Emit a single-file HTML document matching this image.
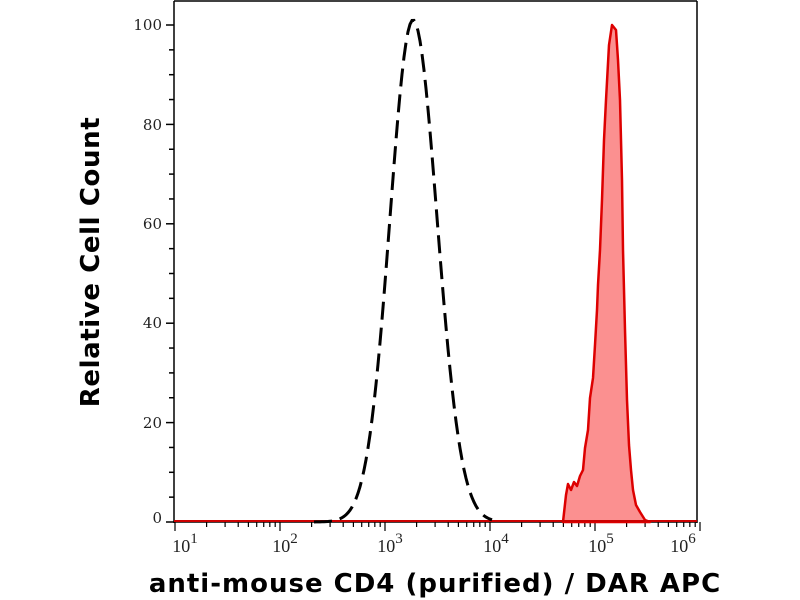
<!DOCTYPE html>
<html><head><meta charset="utf-8"><style>
html,body{margin:0;padding:0;background:#fff;width:800px;height:600px;overflow:hidden}
</style></head><body>
<svg width="800" height="600" xmlns="http://www.w3.org/2000/svg">
<g id="axes" stroke="#000" stroke-width="1.5" fill="none">
<line x1="174" y1="1" x2="174" y2="523"/>
<line x1="174" y1="1" x2="697" y2="1"/>
<line x1="697" y1="1" x2="697" y2="523"/>
<line x1="174" y1="522" x2="697" y2="522"/>
</g>
<g id="yt" stroke="#000" stroke-width="1.5"></g>
<g id="xt" stroke="#000" stroke-width="1.2"></g>
<g font-family="DejaVu Serif, serif" font-size="15" fill="#222" text-anchor="end">
<text x="162" y="30">100</text><text x="162" y="130">80</text><text x="162" y="229">60</text>
<text x="162" y="328">40</text><text x="162" y="428">20</text><text x="162" y="523">0</text>
</g>
<g font-family="Liberation Serif, serif" font-size="18" fill="#222" text-anchor="middle">
<text x="185" y="552">10<tspan dy="-9" font-size="15">1</tspan></text>
<text x="285" y="552">10<tspan dy="-9" font-size="15">2</tspan></text>
<text x="390" y="552">10<tspan dy="-9" font-size="15">3</tspan></text>
<text x="496" y="552">10<tspan dy="-9" font-size="15">4</tspan></text>
<text x="601" y="552">10<tspan dy="-9" font-size="15">5</tspan></text>
<text x="683" y="552">10<tspan dy="-9" font-size="15">6</tspan></text>
</g>
<path id="red" fill="#fb9090" stroke="#dd0000" stroke-width="2.5" stroke-linejoin="round"/>
<line x1="174" y1="521" x2="697" y2="521" stroke="#cc0000" stroke-width="2"/>
<path id="blk" fill="none" stroke="#000" stroke-width="3" stroke-dasharray="18 8"/>
<text x="99" y="262" transform="rotate(-90 99 262)" font-family="DejaVu Sans, sans-serif" font-weight="bold" font-size="26" letter-spacing="0.6" text-anchor="middle" fill="#000">Relative Cell Count</text>
<text x="435" y="592" font-family="DejaVu Sans, sans-serif" font-weight="bold" font-size="26" letter-spacing="1" text-anchor="middle" fill="#000">anti-mouse CD4 (purified) / DAR APC</text>
</svg>
<script>
var ns="http://www.w3.org/2000/svg";
function ln(g,x1,y1,x2,y2){var l=document.createElementNS(ns,"line");l.setAttribute("x1",x1);l.setAttribute("y1",y1);l.setAttribute("x2",x2);l.setAttribute("y2",y2);g.appendChild(l);}
var yt=document.getElementById("yt");
for(var v=0;v<=100;v+=5){var y=522-v*4.97;ln(yt,v%20==0?166:169,y,174,y);}
var xt=document.getElementById("xt");
for(var d=1;d<=6;d++){for(var m=1;m<10;m++){if(d==6&&m>1)break;var x=175+(d-1+Math.log10(m))*105;if(x<174)continue;ln(xt,x,522,x,m==1?531:527);}}
var rp=[[563,522],[566,495],[568,484],[571,490],[574,482],[577,486],[580,476],[583,470],[585,448],[588,430],[590,398],[593,378],[595,345],[597,310],[598,285],[600,250],[602,200],[604,140],[606,100],[609,45],[612,25],[616,30],[618,60],[620,100],[622,180],[623,250],[625,330],[627,400],[629,445],[631,470],[633,490],[636,505],[640,512],[645,520],[650,522]];
var d="M"+rp.map(function(p){return p[0]+","+p[1]}).join(" L")+" Z";
document.getElementById("red").setAttribute("d",d);
var bp=[];
for(var x=314;x<=492;x+=2){var dx=x-413;var s=dx<0?23:24;var v=Math.exp(-dx*dx/(2*s*s));var y=522-v*502;bp.push(x+","+y.toFixed(1));}
document.getElementById("blk").setAttribute("d","M"+bp.join(" L"));
</script>
</body></html>
